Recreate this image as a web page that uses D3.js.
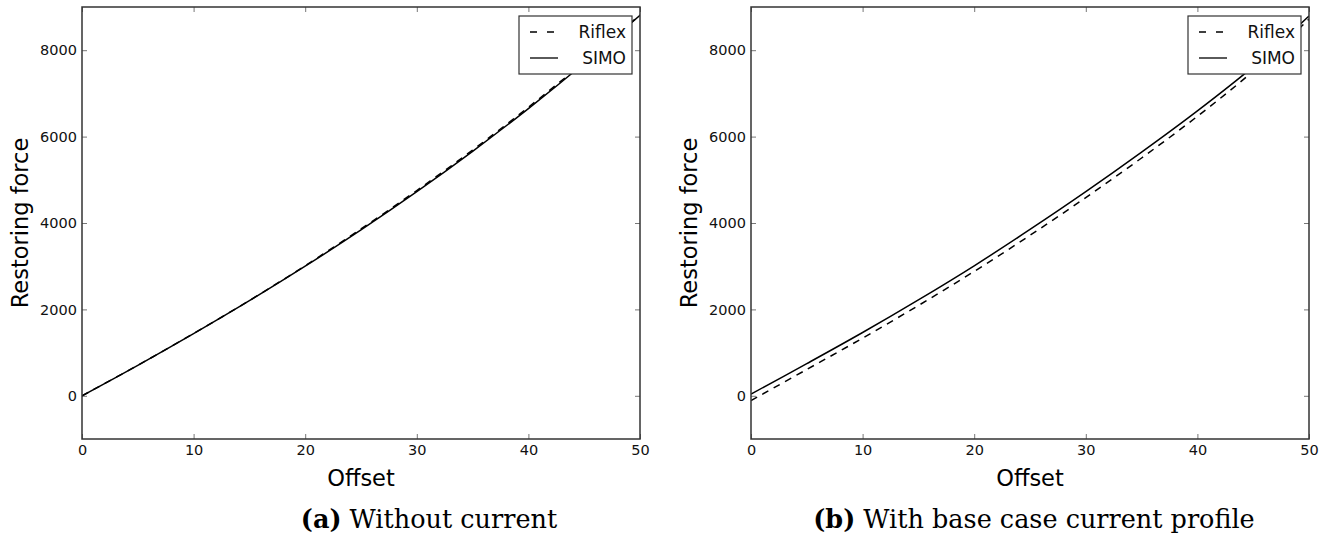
<!DOCTYPE html>
<html>
<head>
<meta charset="utf-8">
<script src="https://cdn.jsdelivr.net/npm/d3@7"></script>
<style>
  html, body { margin: 0; padding: 0; background: #fff; }
  svg { display: block; }
</style>
</head>
<body>
<svg id="chart" width="1332" height="543"></svg>
<script>
// Offset values at which restoring force was sampled
const offsets = [0, 5, 10, 15, 20, 25, 30, 35, 40, 45, 50];

// Panel (a): without current
const riflexNoCurrent = [0, 706, 1442, 2206, 3012, 3862, 4752, 5688, 6680, 7725, 8815];
const simoNoCurrent   = [0, 705, 1438, 2201, 3000, 3840, 4725, 5660, 6649, 7697, 8808];

// Panel (b): with base case current profile
const riflexCurrent = [-110, 610, 1335, 2090, 2880, 3715, 4590, 5505, 6470, 7515, 8720];
const simoCurrent   = [40, 745, 1465, 2220, 3010, 3850, 4725, 5640, 6595, 7620, 8790];

const xTicks = [0, 10, 20, 30, 40, 50];
const yTicks = [0, 2000, 4000, 6000, 8000];
const xDomain = [0, 50];
const yDomain = [-1000, 9000];

const seriesNames = ["Riflex", "SIMO"];
const captions = [
  { tag: "(a)", text: " Without current" },
  { tag: "(b)", text: " With base case current profile" }
];

const panels = [
  { left: 82,  right: 640,  top: 7, bottom: 439, series: [riflexNoCurrent, simoNoCurrent], caption: captions[0], capX: 429 },
  { left: 751, right: 1309, top: 7, bottom: 439, series: [riflexCurrent, simoCurrent], caption: captions[1], capX: 1034 }
];

const svg = d3.select("#chart");
const sansFont = "'DejaVu Sans', sans-serif";
const serifFont = "'DejaVu Serif', serif";
const dashes = ["7,6", null];

panels.forEach((p, i) => {
  const x = d3.scaleLinear().domain(xDomain).range([p.left, p.right]);
  const y = d3.scaleLinear().domain(yDomain).range([p.bottom, p.top]);
  const g = svg.append("g");

  g.append("clipPath").attr("id", "clip" + i)
    .append("rect").attr("x", p.left).attr("y", p.top)
    .attr("width", p.right - p.left).attr("height", p.bottom - p.top);

  // Axes with inward ticks on all four sides
  const tickStyle = sel => {
    sel.select(".domain").remove();
    sel.selectAll(".tick line").attr("stroke", "#777").attr("stroke-width", 1);
    sel.selectAll(".tick text").attr("font-family", sansFont).attr("font-size", 14.5).attr("fill", "#111");
  };
  g.append("g").attr("transform", `translate(0,${p.bottom})`)
    .call(d3.axisBottom(x).tickValues(xTicks).tickFormat(d3.format("d")).tickSizeInner(-5).tickPadding(6))
    .call(tickStyle);
  g.append("g").attr("transform", `translate(0,${p.top})`)
    .call(d3.axisTop(x).tickValues(xTicks).tickFormat("").tickSizeInner(-5))
    .call(tickStyle);
  g.append("g").attr("transform", `translate(${p.left},0)`)
    .call(d3.axisLeft(y).tickValues(yTicks).tickFormat(d3.format("d")).tickSizeInner(-5).tickPadding(5))
    .call(tickStyle);
  g.append("g").attr("transform", `translate(${p.right},0)`)
    .call(d3.axisRight(y).tickValues(yTicks).tickFormat("").tickSizeInner(-5))
    .call(tickStyle);

  // Curves
  const line = d3.line()
    .x((d, k) => x(offsets[k]))
    .y(d => y(d))
    .curve(d3.curveCatmullRom.alpha(0.5));
  p.series.forEach((vals, s) => {
    g.append("path")
      .attr("clip-path", `url(#clip${i})`)
      .attr("d", line(vals))
      .attr("fill", "none")
      .attr("stroke", "#000")
      .attr("stroke-width", 1.5)
      .attr("stroke-dasharray", dashes[s]);
  });

  // Frame
  g.append("rect")
    .attr("x", p.left).attr("y", p.top)
    .attr("width", p.right - p.left).attr("height", p.bottom - p.top)
    .attr("fill", "none").attr("stroke", "#333").attr("stroke-width", 1.5);

  // Legend
  const lg = g.append("g");
  const bx = p.right - 121, by = 16, bw = 113, bh = 58;
  lg.append("rect").attr("x", bx).attr("y", by).attr("width", bw).attr("height", bh)
    .attr("fill", "#fff").attr("stroke", "#333").attr("stroke-width", 1.2);
  seriesNames.forEach((name, s) => {
    const cy = by + 16 + s * 26;
    lg.append("line").attr("x1", bx + 11).attr("x2", bx + 39).attr("y1", cy).attr("y2", cy)
      .attr("stroke", "#000").attr("stroke-width", 1.3)
      .attr("stroke-dasharray", s === 0 ? "7,10" : null);
    lg.append("text").attr("x", bx + bw - 6).attr("y", cy).attr("dy", "0.36em")
      .attr("text-anchor", "end").attr("font-family", sansFont).attr("font-size", 17)
      .attr("fill", "#111").text(name);
  });

  // Axis titles
  g.append("text")
    .attr("x", (p.left + p.right) / 2).attr("y", 486)
    .attr("text-anchor", "middle").attr("font-family", sansFont).attr("font-size", 22.5)
    .attr("fill", "#000").text("Offset");
  g.append("text")
    .attr("transform", `translate(${p.left - 54},${(p.top + p.bottom) / 2}) rotate(-90)`)
    .attr("text-anchor", "middle").attr("font-family", sansFont).attr("font-size", 22.5)
    .attr("fill", "#000").text("Restoring force");

  // Sub-caption
  const cap = g.append("text")
    .attr("x", p.capX).attr("y", 528)
    .attr("text-anchor", "middle").attr("font-family", serifFont).attr("font-size", 25.5)
    .attr("fill", "#000");
  cap.append("tspan").attr("font-weight", "bold").text(p.caption.tag);
  cap.append("tspan").text(p.caption.text);
});
</script>
</body>
</html>
